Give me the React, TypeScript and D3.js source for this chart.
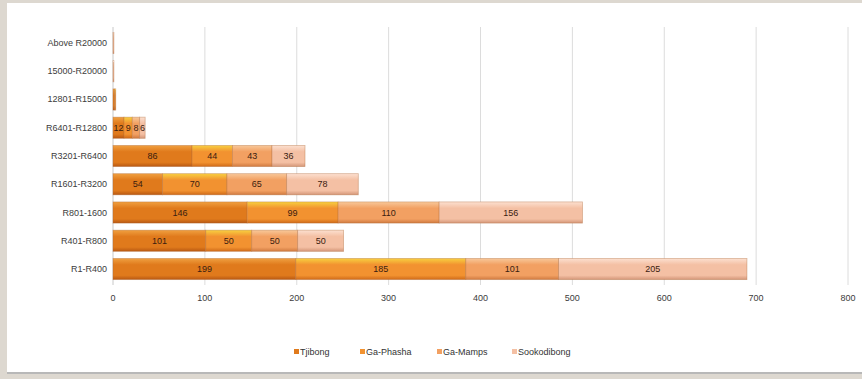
import React from "react";
import * as d3 from "d3";

const categories = ["Above R20000", "15000-R20000", "12801-R15000", "R6401-R12800", "R3201-R6400", "R1601-R3200", "R801-1600", "R401-R800", "R1-R400"];
const seriesNames = ["Tjibong", "Ga-Phasha", "Ga-Mamps", "Sookodibong"];
const tjibong = [0, 0, 2, 12, 86, 54, 146, 101, 199];
const gaPhasha = [0, 0, 1, 9, 44, 70, 99, 50, 185];
const gaMamps = [0, 0, 0, 8, 43, 65, 110, 50, 101];
const sookodibong = [1, 1, 0, 6, 36, 78, 156, 50, 205];
const xTicks = [0, 100, 200, 300, 400, 500, 600, 700, 800];

const seriesValues = [tjibong, gaPhasha, gaMamps, sookodibong];
const colors = [
  { top: "#f0a040", mid: "#e07a1c", bot: "#b85812" },
  { top: "#f8d040", mid: "#f29230", bot: "#cf6a18" },
  { top: "#f8c89a", mid: "#f2a062", bot: "#d07a40" },
  { top: "#fce0d0", mid: "#f4c0a4", bot: "#d49678" },
];

export default function App() {
  const W = 862, H = 379;
  const x = d3.scaleLinear().domain([0, 800]).range([113, 848]);
  const y = d3.scaleBand().domain(categories).range([29, 283]).paddingInner(0.25).paddingOuter(0.12);
  const stackData = categories.map((c, i) => {
    const o: any = { cat: c };
    seriesNames.forEach((s, k) => (o[s] = seriesValues[k][i]));
    return o;
  });
  const stack = d3.stack<any>().keys(seriesNames)(stackData);
  const font = "Liberation Sans, Arial, sans-serif";
  const legendX = [294, 360, 437, 512];
  return (
    <svg width={W} height={H} style={{ position: "absolute", left: 0, top: 0 }}>
      <defs>
        {colors.map((c, k) => (
          <linearGradient key={k} id={`g${k}`} x1="0" y1="0" x2="0" y2="1">
            <stop offset="0" stopColor={c.top} />
            <stop offset="0.3" stopColor={c.mid} />
            <stop offset="0.8" stopColor={c.mid} />
            <stop offset="1" stopColor={c.bot} />
          </linearGradient>
        ))}
      </defs>
      <rect x={0} y={0} width={W} height={H} fill="#ddd8d0" />
      <rect x={7} y={3} width={W - 7} height={370} fill="#ffffff" />
      <rect x={7} y={372} width={W - 7} height={2} fill="#b8b8b8" />
      {xTicks.map((t) => (
        <line key={t} x1={x(t)} x2={x(t)} y1={27} y2={285} stroke={t === 0 ? "#c8c8c8" : "#dcdcdc"} strokeWidth={1} />
      ))}
      {stack.map((layer, k) =>
        layer.map((d, i) => {
          const w = x(d[1]) - x(d[0]);
          if (w <= 0) return null;
          const yy = y(categories[i])!;
          const bh = y.bandwidth();
          const v = d[1] - d[0];
          return (
            <g key={`${k}-${i}`}>
              <rect x={x(d[0])} y={yy} width={w} height={bh} fill={`url(#g${k})`} stroke="#b06a3a" strokeOpacity={0.45} strokeWidth={0.8} />
              {v >= 5 ? (
                <text x={x(d[0]) + w / 2} y={yy + bh / 2 + 3} textAnchor="middle" fontSize={9} fontFamily={font} fill="#3a2010">
                  {v}
                </text>
              ) : null}
            </g>
          );
        })
      )}
      {categories.map((c) => (
        <text key={c} x={107} y={y(c)! + y.bandwidth() / 2 + 3} textAnchor="end" fontSize={9} fontFamily={font} fill="#3c3c3c">
          {c}
        </text>
      ))}
      {xTicks.map((t) => (
        <text key={t} x={x(t)} y={301} textAnchor="middle" fontSize={9} fontFamily={font} fill="#3c3c3c">
          {t}
        </text>
      ))}
      {seriesNames.map((s, k) => (
        <g key={s}>
          <rect x={legendX[k]} y={349} width={5} height={5} fill={colors[k].mid} />
          <text x={legendX[k] + 6} y={355} fontSize={9} fontFamily={font} fill="#333">
            {s}
          </text>
        </g>
      ))}
    </svg>
  );
}
